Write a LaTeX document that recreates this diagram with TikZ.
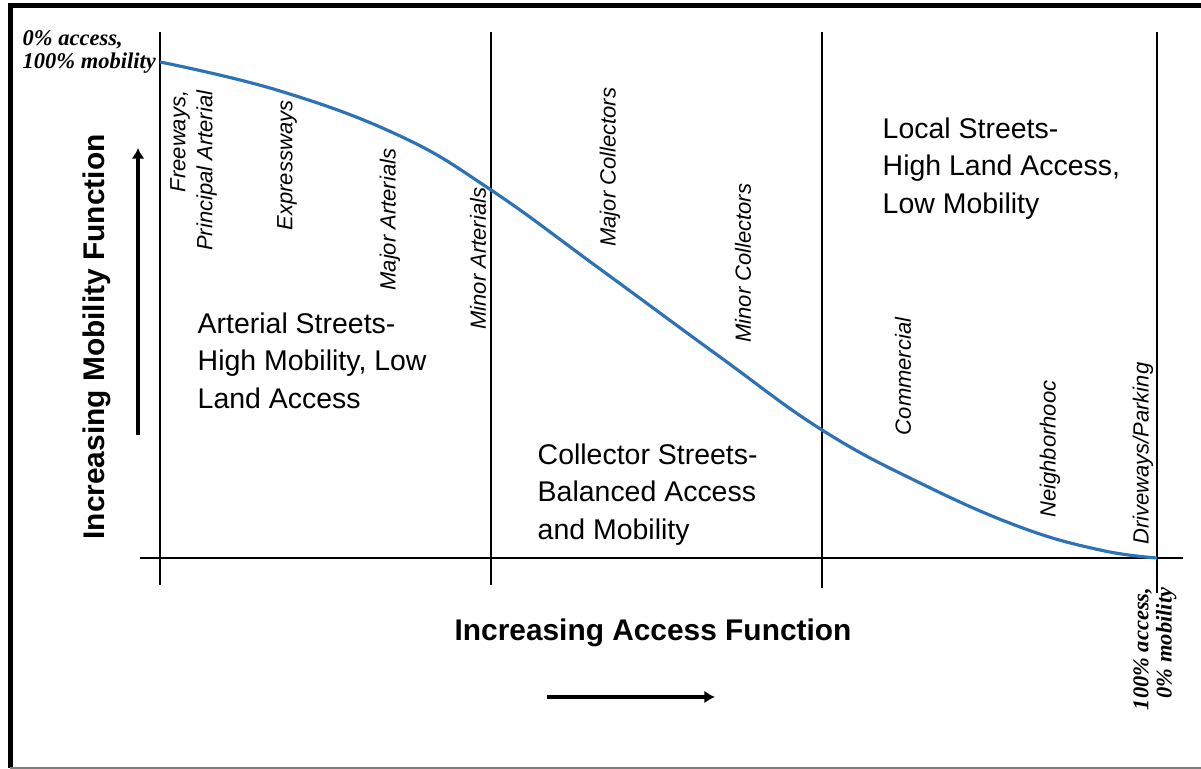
\documentclass[tikz,border=0pt]{standalone}
\usepackage{fontspec}
\setmainfont{Liberation Sans}
\newfontfamily\tnrfont{Liberation Serif}
\usetikzlibrary{arrows.meta,positioning}
\definecolor{CurveBlue}{RGB}{46,114,182}
\definecolor{FrameGrey}{RGB}{125,125,125}

\tikzset{
  zone/.style={align=left,anchor=north west,inner sep=0pt,
    font=\fontsize{8.1pt}{10.7pt}\selectfont},
  roadtype/.style={rotate=90,anchor=east,align=right,inner sep=0pt,
    font=\fontsize{6.26pt}{7.7pt}\selectfont\itshape},
  endnote/.style={inner sep=0pt,font=\fontsize{6.4pt}{6.6pt}\selectfont\tnrfont\bfseries\itshape},
  axislabel/.style={inner sep=0pt,font=\fontsize{8.5pt}{10pt}\selectfont\bfseries},
  gridline/.style={line width=0.55pt},
  dirarrow/.style={line width=1.1pt,-{Latex[length=3pt,width=3.6pt]}}
}

\begin{document}
\begin{tikzpicture}
  \useasboundingbox (0,0) rectangle (12.01,7.69);
  % frame
  \draw[line width=1.2pt] (12.01,7.635) -- (0.105,7.635) -- (0.105,0.01);
  \draw[FrameGrey,line width=0.4pt] (0.105,0.01) -- (12.01,0.01);
  % class borders
  \foreach \x/\yb [count=\i] in {1.60/1.84,4.91/1.84,8.22/1.81,11.57/1.76}{
    \coordinate (top\i) at (\x,7.37);
    \coordinate (bot\i) at (\x,\yb);
    \draw[gridline] (top\i) -- (bot\i);
  }
  \coordinate (xstart) at (1.40,2.11);
  \coordinate (xend) at (11.83,2.11);
  \draw[gridline] (xstart) -- (xend);

  % mobility curve
  \draw[CurveBlue,line width=0.9pt] plot[smooth,tension=0.7] coordinates {
    (1.60,7.07) (2.80,6.78) (4.00,6.33) (4.91,5.79) (6.00,5.00) (7.20,4.12)
    (8.22,3.39) (9.20,2.86) (10.20,2.42) (11.00,2.19) (11.57,2.11)};

  % road types along the curve
  \foreach \x/\y/\t [count=\i] in {1.935/6.79/{Freeways,\\Principal Arterial},
      2.87/6.69/Expressways, 3.90/6.21/Major Arterials, 4.78/5.82/Minor Arterials,
      6.10/6.82/Major Collectors, 7.43/5.86/Minor Collectors,
      9.03/4.52/Commercial, 10.50/3.89/Neighborhooc, 11.43/4.07/{Driveways/Parking}}{
    \node[roadtype] (road\i) at (\x,\y) {\t};
  }

  \node[endnote,align=left,anchor=north west] (fullmob) at (0.22,7.39)
    {0\% access,\\100\% mobility};
  \node[endnote,rotate=90,anchor=east,align=right] (fullacc) at (11.55,1.82)
    {100\% access,\\0\% mobility};

  \node[zone] (arterial) at (1.97,4.57) {Arterial Streets-\\High Mobility, Low\\Land Access};
  \node[zone] (collector) at (5.37,3.26) {Collector Streets-\\Balanced Access\\and Mobility};
  \node[zone] (local) at (8.82,6.52) {Local Streets-\\High Land Access,\\Low Mobility};

  % axis titles and arrows
  \node[axislabel,rotate=90] (mobility) at (0.97,4.32) {Increasing Mobility Function};
  \node[axislabel] (access) at (6.53,1.36) {Increasing Access Function};
  \coordinate (up0) at (1.38,3.34);
  \coordinate (up1) at (1.38,6.21);
  \draw[dirarrow] (up0) -- (up1);
  \coordinate (rt0) at (5.47,0.72);
  \coordinate (rt1) at (7.15,0.72);
  \draw[dirarrow] (rt0) -- (rt1);
\end{tikzpicture}
\end{document}
